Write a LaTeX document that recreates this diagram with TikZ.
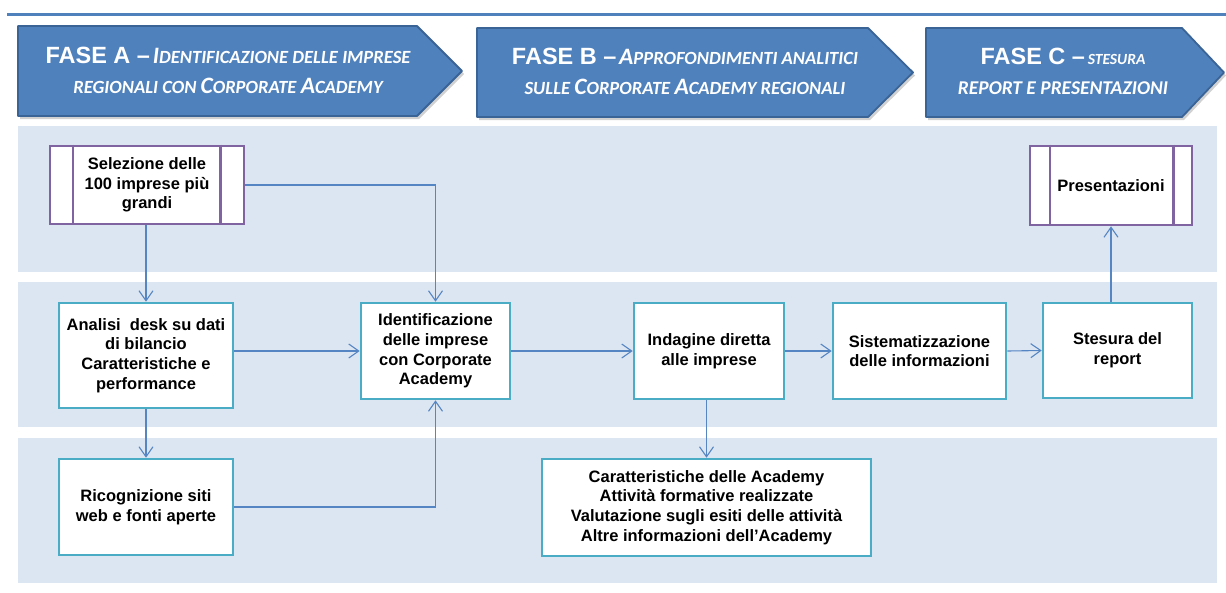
\documentclass[tikz,border=0pt]{standalone}
\usepackage{fontspec}
\setmainfont{Liberation Sans}
\newfontfamily\capfont{Carlito}
\usetikzlibrary{arrows.meta}

\definecolor{hdrblue}{HTML}{4F81BD}
\definecolor{hdredge}{HTML}{3A6396}
\definecolor{bandblue}{HTML}{DCE6F2}
\definecolor{tealedge}{HTML}{4BACC6}
\definecolor{violetedge}{HTML}{8064A2}
\definecolor{linkblue}{HTML}{5585C2}

% faked small capitals: first argument large, second small
\newcommand\SmC[2]{{\fontsize{23.5}{23.5}\selectfont #1}{\fontsize{18.6}{18.6}\selectfont #2}}
\newcommand\PhaseLead[1]{{\fontsize{23.5}{28}\selectfont #1 --} }

\tikzset{
  phasearrow/.style={fill=hdrblue, draw=hdredge, line width=1.8pt, line join=round},
  phaseshadow/.style={fill=black, opacity=0.18},
  phasetext/.style={text=white, anchor=base, inner sep=0pt, font=\bfseries},
  taskbox/.style={draw=tealedge, line width=2.6pt, fill=white, align=center, inner sep=0pt,
    font={\fontsize{16.5}{19.7}\selectfont\bfseries}},
  procbox/.style={draw=violetedge, line width=2.6pt, fill=white, align=center, inner sep=0pt,
    font={\fontsize{16.5}{19.7}\selectfont\bfseries}},
  procbar/.style={draw=violetedge, line width=2.4pt},
  conn/.style={draw=linkblue, line width=1.1pt, -{Straight Barb[length=10pt,width=14pt,line width=1.1pt]}},
}

\begin{document}
\begin{tikzpicture}[x=1pt,y=-1pt]
\useasboundingbox (0,0) rectangle (1226,592);

% rule across the top
\draw[hdrblue, line width=3pt] (7,14.5) -- (1226,14.5);

% phase headers
\fill[phaseshadow] (20,29) -- (419,29) -- (464,74) -- (419,119) -- (20,119) -- cycle;
\draw[phasearrow] (18,26) -- (417,26) -- (462,71) -- (417,116) -- (18,116) -- cycle;
\fill[phaseshadow] (479,31) -- (870,31) -- (915,75.5) -- (870,120) -- (479,120) -- cycle;
\draw[phasearrow] (477,28) -- (868,28) -- (913,72.5) -- (868,117) -- (477,117) -- cycle;
\fill[phaseshadow] (928,31) -- (1184,31) -- (1226,75.5) -- (1184,120) -- (928,120) -- cycle;
\draw[phasearrow] (926,28) -- (1182,28) -- (1224,72.5) -- (1182,117) -- (926,117) -- cycle;

\node[phasetext] (pa1) at (228,63) {\PhaseLead{FASE A}{\capfont\bfseries\itshape\SmC{I}{DENTIFICAZIONE DELLE IMPRESE}}};
\node[phasetext] (pa2) at (228,93) {\capfont\bfseries\itshape\SmC{}{REGIONALI CON }\SmC{C}{ORPORATE }\SmC{A}{CADEMY}};
\node[phasetext] (pb1) at (685,64) {\PhaseLead{FASE B}{\capfont\bfseries\itshape\SmC{A}{PPROFONDIMENTI ANALITICI}}};
\node[phasetext] (pb2) at (685,94) {\capfont\bfseries\itshape\SmC{}{SULLE }\SmC{C}{ORPORATE }\SmC{A}{CADEMY REGIONALI}};
\node[phasetext] (pc1) at (1063,64) {\PhaseLead{FASE C}{\capfont\bfseries\itshape\fontsize{15.5}{15.5}\selectfont STESURA}};
\node[phasetext] (pc2) at (1063,94) {\capfont\bfseries\itshape\fontsize{19.5}{19.5}\selectfont REPORT E PRESENTAZIONI};

% swim lanes
\fill[bandblue] (18,126) rectangle (1217,272);
\fill[bandblue] (18,282) rectangle (1217,427);
\fill[bandblue] (18,438) rectangle (1217,583);

% process steps
\node[procbox, minimum width=194pt, minimum height=78pt] (sel) at (147,185) {Selezione delle\\100 imprese più\\grandi};
\draw[procbar] ([xshift=24pt]sel.north west) -- ([xshift=24pt]sel.south west);
\draw[procbar] ([xshift=-25pt]sel.north east) -- ([xshift=-25pt]sel.south east);

\node[procbox, minimum width=162pt, minimum height=79pt] (pres) at (1111,185.5) {Presentazioni};
\draw[procbar] ([xshift=21pt]pres.north west) -- ([xshift=21pt]pres.south west);
\draw[procbar] ([xshift=-20pt]pres.north east) -- ([xshift=-20pt]pres.south east);

\node[taskbox, minimum width=174pt, minimum height=105pt] (ana) at (146,355.5) {Analisi\ \ desk su dati\\di bilancio\\Caratteristiche e\\performance};
\node[taskbox, minimum width=174pt, minimum height=96pt] (ric) at (146,507) {Ricognizione siti\\web e fonti aperte};
\node[taskbox, minimum width=149pt, minimum height=96pt] (iden) at (435.5,351) {Identificazione\\delle imprese\\con Corporate\\Academy};
\node[taskbox, minimum width=150pt, minimum height=96pt] (ind) at (709,351) {Indagine diretta\\alle imprese};
\node[taskbox, minimum width=329pt, minimum height=97pt] (car) at (706.5,507.5) {Caratteristiche delle Academy\\Attività formative realizzate\\Valutazione sugli esiti delle attività\\Altre informazioni dell’Academy};
\node[taskbox, minimum width=173pt, minimum height=96pt] (sis) at (919.5,351) {Sistematizzazione\\delle informazioni};
\node[taskbox, minimum width=149pt, minimum height=95pt] (ste) at (1117.5,350.5) {Stesura del\\report};

% connectors
\draw[conn] (sel.south -| ana.north) -- (ana.north);
\draw[conn] (sel.east) -| (iden.north);
\draw[conn] (ana.east |- iden.west) -- (iden.west);
\draw[conn] (ana.south) -- (ric.north);
\draw[conn] (ric.east) -| (iden.south);
\draw[conn] (iden.east) -- (ind.west);
\draw[conn] (ind.east) -- (sis.west);
\draw[conn] (sis.east) -- (ste.west);
\draw[conn] (ind.south -| car.north) -- (car.north);
\draw[conn] (pres.south |- ste.north) -- (pres.south);
\end{tikzpicture}
\end{document}
